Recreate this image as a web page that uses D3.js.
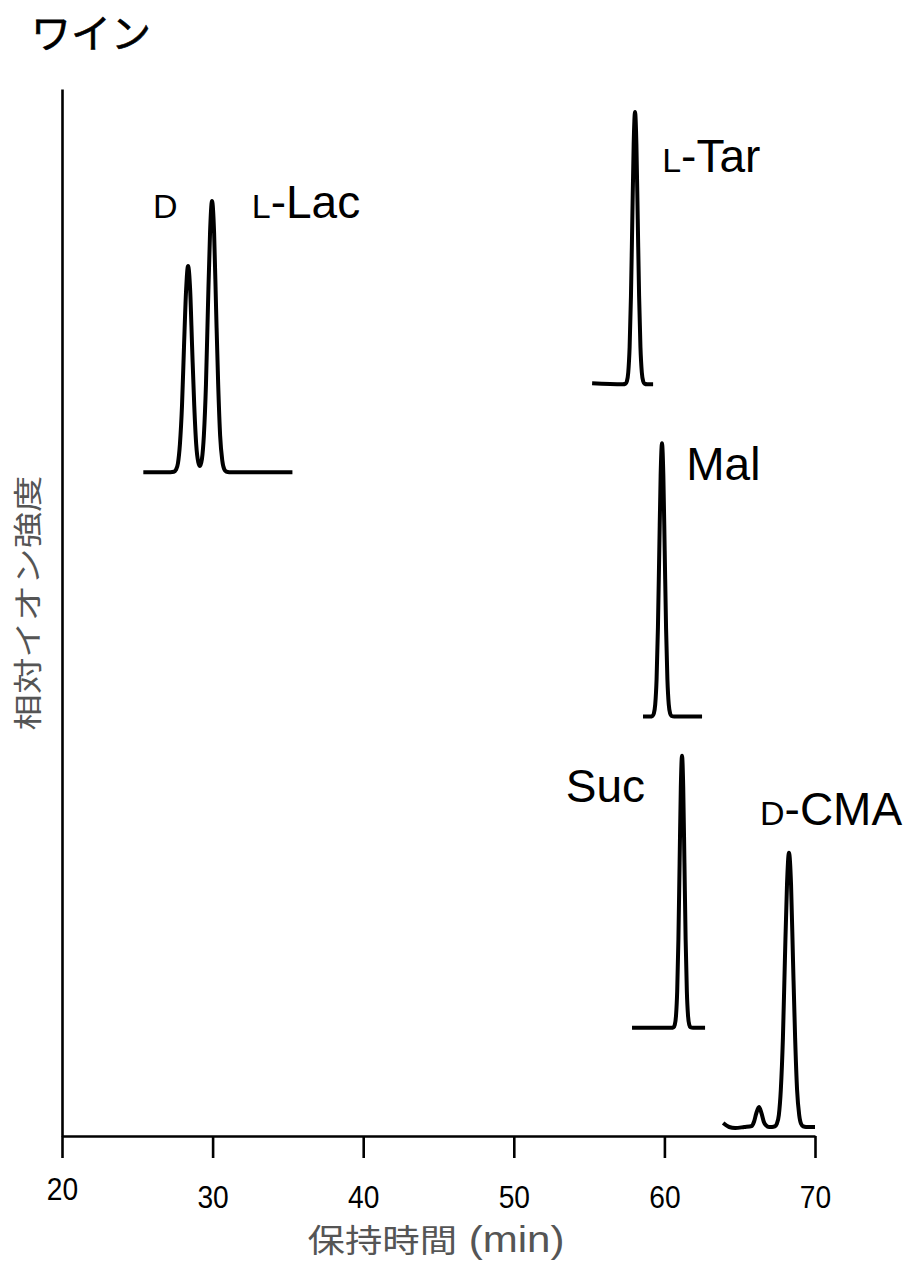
<!DOCTYPE html>
<html>
<head>
<meta charset="utf-8">
<script src="https://cdn.jsdelivr.net/npm/d3@7"></script>
<style>
  html, body { margin: 0; padding: 0; background: #ffffff; }
  svg { display: block; }
</style>
</head>
<body>
<div id="chart"></div>
<script>
// retention time (min) / relative intensity
const lacTime   = [25.4, 27.2, 27.43, 27.56, 27.70, 27.83, 27.97, 28.10, 28.24, 28.37, 28.51, 28.64, 28.78, 28.91, 29.05, 29.16, 29.29, 29.42, 29.56, 29.69, 29.83, 29.96, 30.10, 30.23, 30.37, 30.50, 30.64, 30.77, 30.91, 31.1, 35.3];
const lacSignal = [0, 0, 0.04, 0.22, 0.86, 2.67, 6.40, 11.95, 17.39, 19.7, 17.39, 11.95, 6.40, 2.68, 0.95, 0.59, 1.25, 3.50, 8.41, 15.71, 22.86, 25.9, 22.86, 15.71, 8.41, 3.50, 1.14, 0.29, 0.06, 0, 0];

const tarTime   = [55.2, 57.25, 57.42, 57.51, 57.60, 57.69, 57.78, 57.87, 57.96, 58.05, 58.14, 58.23, 58.32, 58.41, 58.50, 58.59, 58.68, 58.85, 59.25];
const tarSignal = [0.1, 0, 0.06, 0.29, 1.14, 3.52, 8.44, 15.78, 22.95, 26.0, 22.95, 15.78, 8.44, 3.52, 1.14, 0.29, 0.06, 0, 0];

const malTime   = [58.58, 59.05, 59.21, 59.30, 59.39, 59.48, 59.57, 59.66, 59.75, 59.84, 59.93, 60.02, 60.11, 60.20, 60.29, 60.38, 60.47, 60.65, 62.5];
const malSignal = [0, 0, 0.06, 0.29, 1.15, 3.53, 8.47, 15.83, 23.03, 26.1, 23.03, 15.83, 8.47, 3.53, 1.15, 0.29, 0.06, 0, 0];

const sucTime   = [57.85, 60.45, 60.61, 60.69, 60.77, 60.85, 60.93, 61.01, 61.09, 61.17, 61.25, 61.33, 61.41, 61.49, 61.57, 61.65, 61.73, 61.9, 62.7];
const sucSignal = [0, 0, 0.06, 0.29, 1.14, 3.52, 8.44, 15.78, 22.95, 26.0, 22.95, 15.78, 8.44, 3.52, 1.14, 0.29, 0.06, 0, 0];

const cmaTime   = [63.9, 64.3, 64.7, 65.3, 65.8, 65.95, 66.1, 66.28, 66.45, 66.6, 66.75, 66.95, 67.15, 67.33, 67.46, 67.60, 67.73, 67.87, 68.0, 68.14, 68.27, 68.41, 68.54, 68.68, 68.81, 68.95, 69.08, 69.22, 69.4, 70.0];
const cmaSignal = [0.38, 0, -0.1, 0, 0.1, 0.5, 1.3, 1.9, 1.3, 0.5, 0.15, 0, 0, 0.06, 0.29, 1.15, 3.54, 8.51, 15.89, 23.12, 26.2, 23.12, 15.89, 8.51, 3.54, 1.15, 0.29, 0.06, 0, 0];

const traceNames = ["Lac", "Tar", "Mal", "Suc", "CMA"];
const traceBaselines = [63.4, 71.8, 40.06, 10.33, 0.86];
const traceTimes = [lacTime, tarTime, malTime, sucTime, cmaTime];
const traceSignals = [lacSignal, tarSignal, malSignal, sucSignal, cmaSignal];

const xTicks = [20, 30, 40, 50, 60, 70];

const width = 917;
const height = 1262;
const latin = "'Liberation Sans', Arial, sans-serif";
const cjk = "'Noto Sans CJK JP', 'Noto Sans CJK SC', sans-serif";

const svg = d3.select("#chart")
    .append("svg")
    .attr("width", width)
    .attr("height", height);

const x = d3.scaleLinear().domain([20, 70]).range([62, 815]);
const y = d3.scaleLinear().domain([0, 100]).range([1136, 89]);

// title
svg.append("text")
    .attr("x", 31)
    .attr("y", 48)
    .style("font-family", cjk)
    .style("font-size", "40px")
    .style("fill", "#000")
    .style("stroke", "#000")
    .style("stroke-width", "0.6px")
    .text("ワイン");

// y axis (no ticks)
svg.append("g")
    .attr("transform", `translate(${x(20)},0)`)
    .call(d3.axisLeft(y).ticks(0).tickSizeOuter(0))
    .call(g => g.select(".domain").attr("stroke", "#000").attr("stroke-width", 2.6));

// x axis
const xAxis = svg.append("g")
    .attr("transform", `translate(0,${y(0)})`)
    .call(d3.axisBottom(x).tickValues(xTicks).tickSize(22).tickSizeOuter(0).tickPadding(20));

xAxis.select(".domain").attr("stroke", "#000").attr("stroke-width", 2.6);
xAxis.selectAll(".tick line").attr("stroke", "#000").attr("stroke-width", 2.6);
xAxis.selectAll(".tick text")
    .style("font-family", latin)
    .style("font-size", "32px")
    .style("fill", "#000")
    .attr("y", d => d === 20 ? 41 : 49)
    .attr("dy", "0.71em")
    .attr("transform", "scale(0.88,1)");

// axis titles
const xTitle = svg.append("text")
    .attr("x", 436)
    .attr("y", 1252)
    .attr("text-anchor", "middle")
    .attr("textLength", 257)
    .attr("lengthAdjust", "spacingAndGlyphs")
    .style("fill", "#555");
xTitle.append("tspan").style("font-family", cjk).style("font-size", "32px").text("保持時間");
xTitle.append("tspan").style("font-family", latin).style("font-size", "36px").text(" (min)");

svg.append("text")
    .attr("transform", "translate(39,603) rotate(-90)")
    .attr("text-anchor", "middle")
    .attr("textLength", 255)
    .attr("lengthAdjust", "spacingAndGlyphs")
    .style("font-family", cjk)
    .style("font-size", "29px")
    .style("fill", "#555")
    .text("相対イオン強度");

// chromatogram traces
const line = d3.line()
    .x(d => x(d[0]))
    .y(d => y(d[1]))
    .curve(d3.curveMonotoneX);

traceNames.forEach((name, i) => {
    const pts = traceTimes[i].map((t, j) => [t, traceBaselines[i] + traceSignals[i][j]]);
    svg.append("path")
        .datum(pts)
        .attr("class", "trace " + name)
        .attr("d", line)
        .attr("fill", "none")
        .attr("stroke", "#000")
        .attr("stroke-width", 4)
        .attr("stroke-linejoin", "round");
});

// peak labels: [prefix, name, time, intensity]
const labels = [
    ["D", "", 26.05, 87.7],
    ["L", "-Lac", 32.6, 87.7],
    ["L", "-Tar", 59.85, 92.1],
    ["", "Mal", 61.45, 62.7],
    ["", "Suc", 53.45, 31.9],
    ["D", "-CMA", 66.35, 29.7]
];

labels.forEach(l => {
    const t = svg.append("text")
        .attr("x", x(l[2]))
        .attr("y", y(l[3]))
        .style("font-family", latin)
        .style("fill", "#000");
    if (l[0]) t.append("tspan").style("font-size", "34px").text(l[0]);
    if (l[1]) t.append("tspan").style("font-size", "46px").text(l[1]);
});
</script>
</body>
</html>
